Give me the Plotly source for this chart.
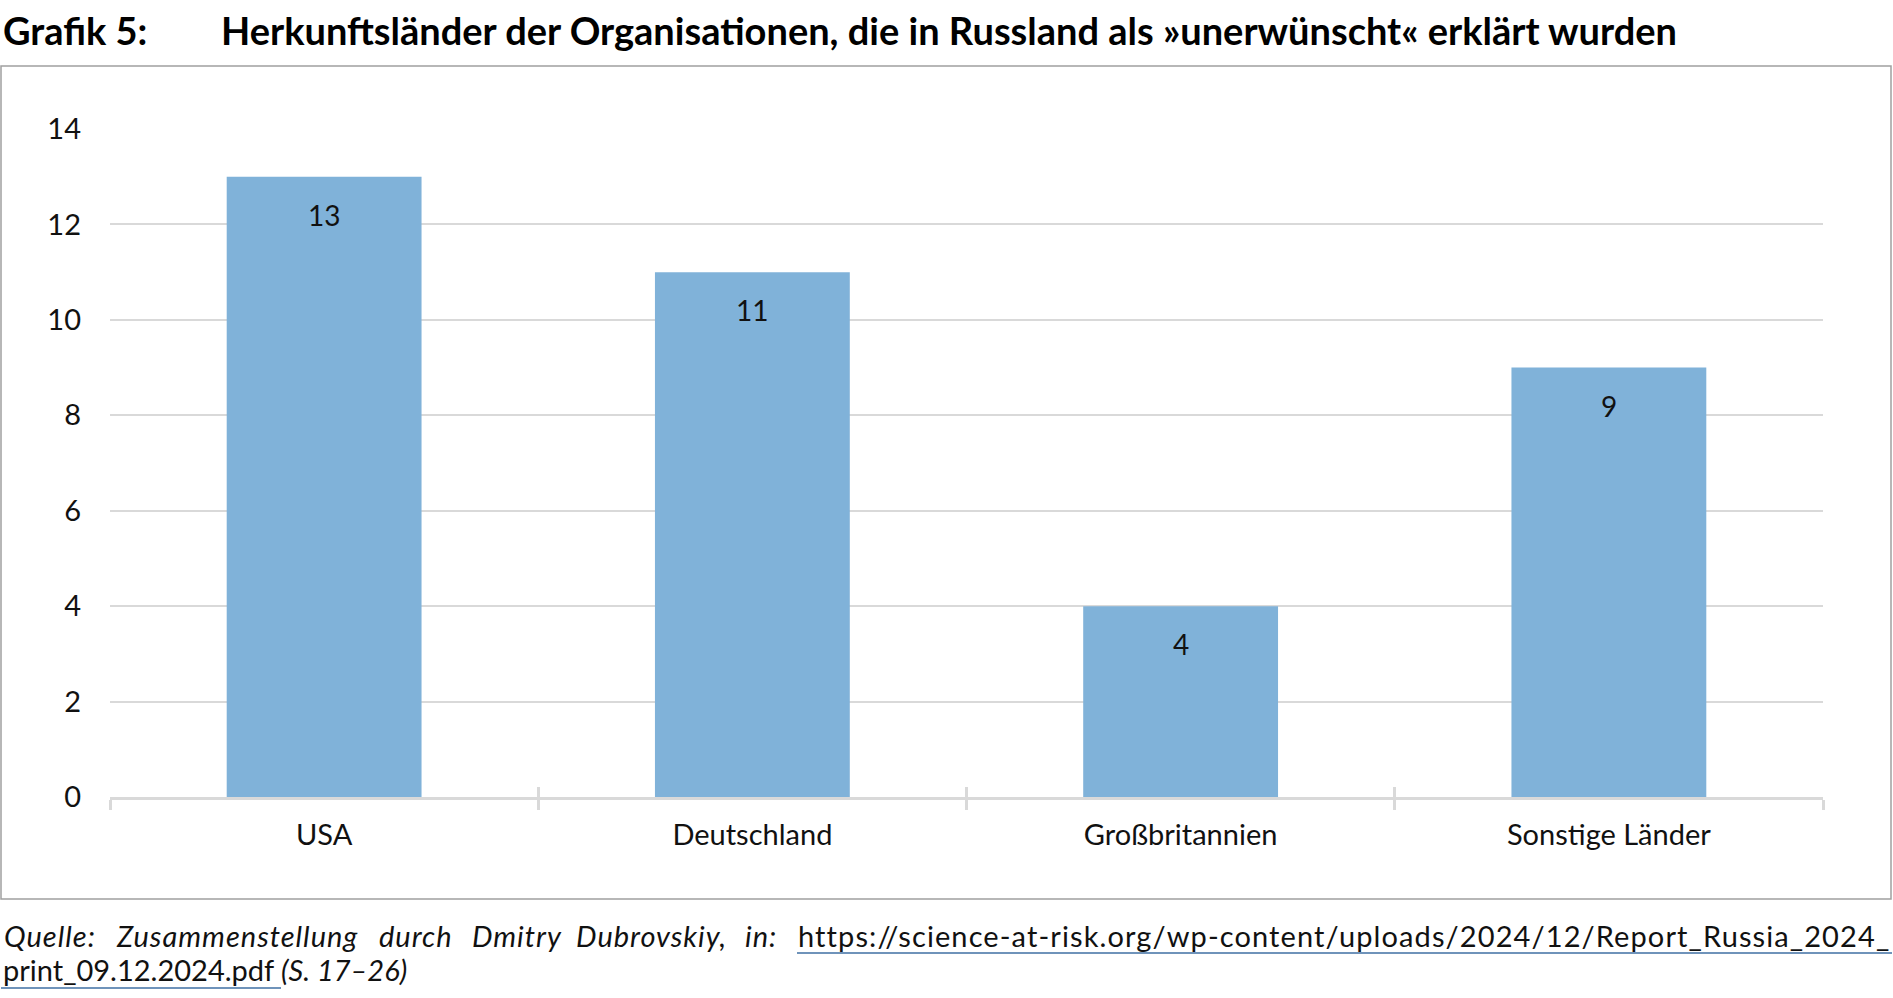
import plotly.graph_objects as go

categories = ["USA", "Deutschland", "Großbritannien", "Sonstige Länder"]
values = [13, 11, 4, 9]
y_ticks = [0, 2, 4, 6, 8, 10, 12, 14]

W, H = 1893, 998
ML, MR, MT, MB = 110, 70, 129, 201
PW, PH = W - ML - MR, H - MT - MB


def px_x(x):
    return (x - ML) / PW


def px_y(y):
    return (H - MB - y) / PH


FONT = "Lato"
BAR = "#80b2d9"
GRID = "#d9d9d9"
TXT = "#111111"

fig = go.Figure()
fig.add_trace(go.Bar(x=categories, y=values, marker=dict(color=BAR, line=dict(width=0)),
                     hoverinfo="x+y", showlegend=False))
fig.add_trace(go.Scatter(x=categories, y=values, xaxis="x2", mode="none",
                         showlegend=False, hoverinfo="skip"))

for c, v in zip(categories, values):
    fig.add_annotation(x=c, y=v, xref="x", yref="y", text=str(v), showarrow=False,
                       yshift=-38, yanchor="middle",
                       font=dict(family=FONT, size=28, color=TXT))

fig.update_layout(
    width=W, height=H,
    margin=dict(l=ML, r=MR, t=MT, b=MB, autoexpand=False),
    paper_bgcolor="white", plot_bgcolor="white",
    bargap=0.545,
    font=dict(family=FONT, size=29, color=TXT),
    xaxis=dict(type="category", range=[-0.5, 3.5], showline=True, linecolor=GRID,
               linewidth=3, ticks="outside", tickson="boundaries", ticklen=10,
               tickwidth=3, tickcolor=GRID, ticklabelstandoff=10, showgrid=False,
               tickfont=dict(family=FONT, size=29, color=TXT), zeroline=False),
    xaxis2=dict(type="category", range=[-0.5, 3.5], overlaying="x", anchor="y",
                side="bottom", ticks="inside", tickson="boundaries", ticklen=10,
                tickwidth=3, tickcolor=GRID, showticklabels=False, showgrid=False,
                showline=False, zeroline=False),
    yaxis=dict(range=[0, 14], tickvals=y_ticks, showgrid=True, gridcolor=GRID,
               gridwidth=1.5, zeroline=False, showline=False, ticks="",
               ticklabelstandoff=28,
               tickfont=dict(family=FONT, size=29, color=TXT)),
)

# Frame around the chart
fig.add_shape(type="rect", xref="paper", yref="paper",
              x0=px_x(1), x1=px_x(1891), y0=px_y(899), y1=px_y(66),
              line=dict(color="#a0a0a0", width=1.5), fillcolor="rgba(0,0,0,0)", layer="below")

# Title
fig.add_annotation(xref="paper", yref="paper", x=px_x(1), y=px_y(30), xanchor="left",
                   yanchor="middle", showarrow=False, text="<b>Grafik 5:</b>",
                   font=dict(family=FONT, size=38, color="#000000"))
fig.add_annotation(xref="paper", yref="paper", x=px_x(219), y=px_y(30), xanchor="left",
                   yanchor="middle", showarrow=False,
                   text="<b>Herkunftsländer der Organisationen, die in Russland als »unerwünscht« erklärt wurden</b>",
                   font=dict(family=FONT, size=38, color="#000000"))

# Source (justified first line)
SRC = dict(family=FONT, size=29, color=TXT)
words = [("Quelle:", 2), ("Zusammenstellung", 114), ("durch", 377),
         ("Dmitry", 470), ("Dubrovskiy,", 574), ("in:", 743)]
for t, x in words:
    fig.add_annotation(xref="paper", yref="paper", x=px_x(x), y=px_y(935), xanchor="left",
                       yanchor="middle", showarrow=False,
                       text='<span style="letter-spacing:1px"><i>' + t + '</i></span>', font=SRC)
fig.add_annotation(xref="paper", yref="paper", x=px_x(1892), y=px_y(935), xanchor="right",
                   yanchor="middle", showarrow=False,
                   text='<span style="letter-spacing:1.1px">https://science-at-risk.org/wp-content/uploads/2024/12/Report_Russia_2024_</span>',
                   font=SRC)
fig.add_annotation(xref="paper", yref="paper", x=px_x(1), y=px_y(970), xanchor="left",
                   yanchor="middle", showarrow=False,
                   text="print_09.12.2024.pdf <i>(S. 17–26)</i>", font=SRC)
LINK = "#3f6fa3"
fig.add_shape(type="line", xref="paper", yref="paper", x0=px_x(797), x1=px_x(1892),
              y0=px_y(953), y1=px_y(953), line=dict(color=LINK, width=1.5))
fig.add_shape(type="line", xref="paper", yref="paper", x0=px_x(1), x1=px_x(281),
              y0=px_y(988), y1=px_y(988), line=dict(color=LINK, width=1.5))

fig.write_html("out.html", config={"displayModeBar": False},
               post_script="document.body.style.margin='0';document.body.style.overflow='hidden';")
